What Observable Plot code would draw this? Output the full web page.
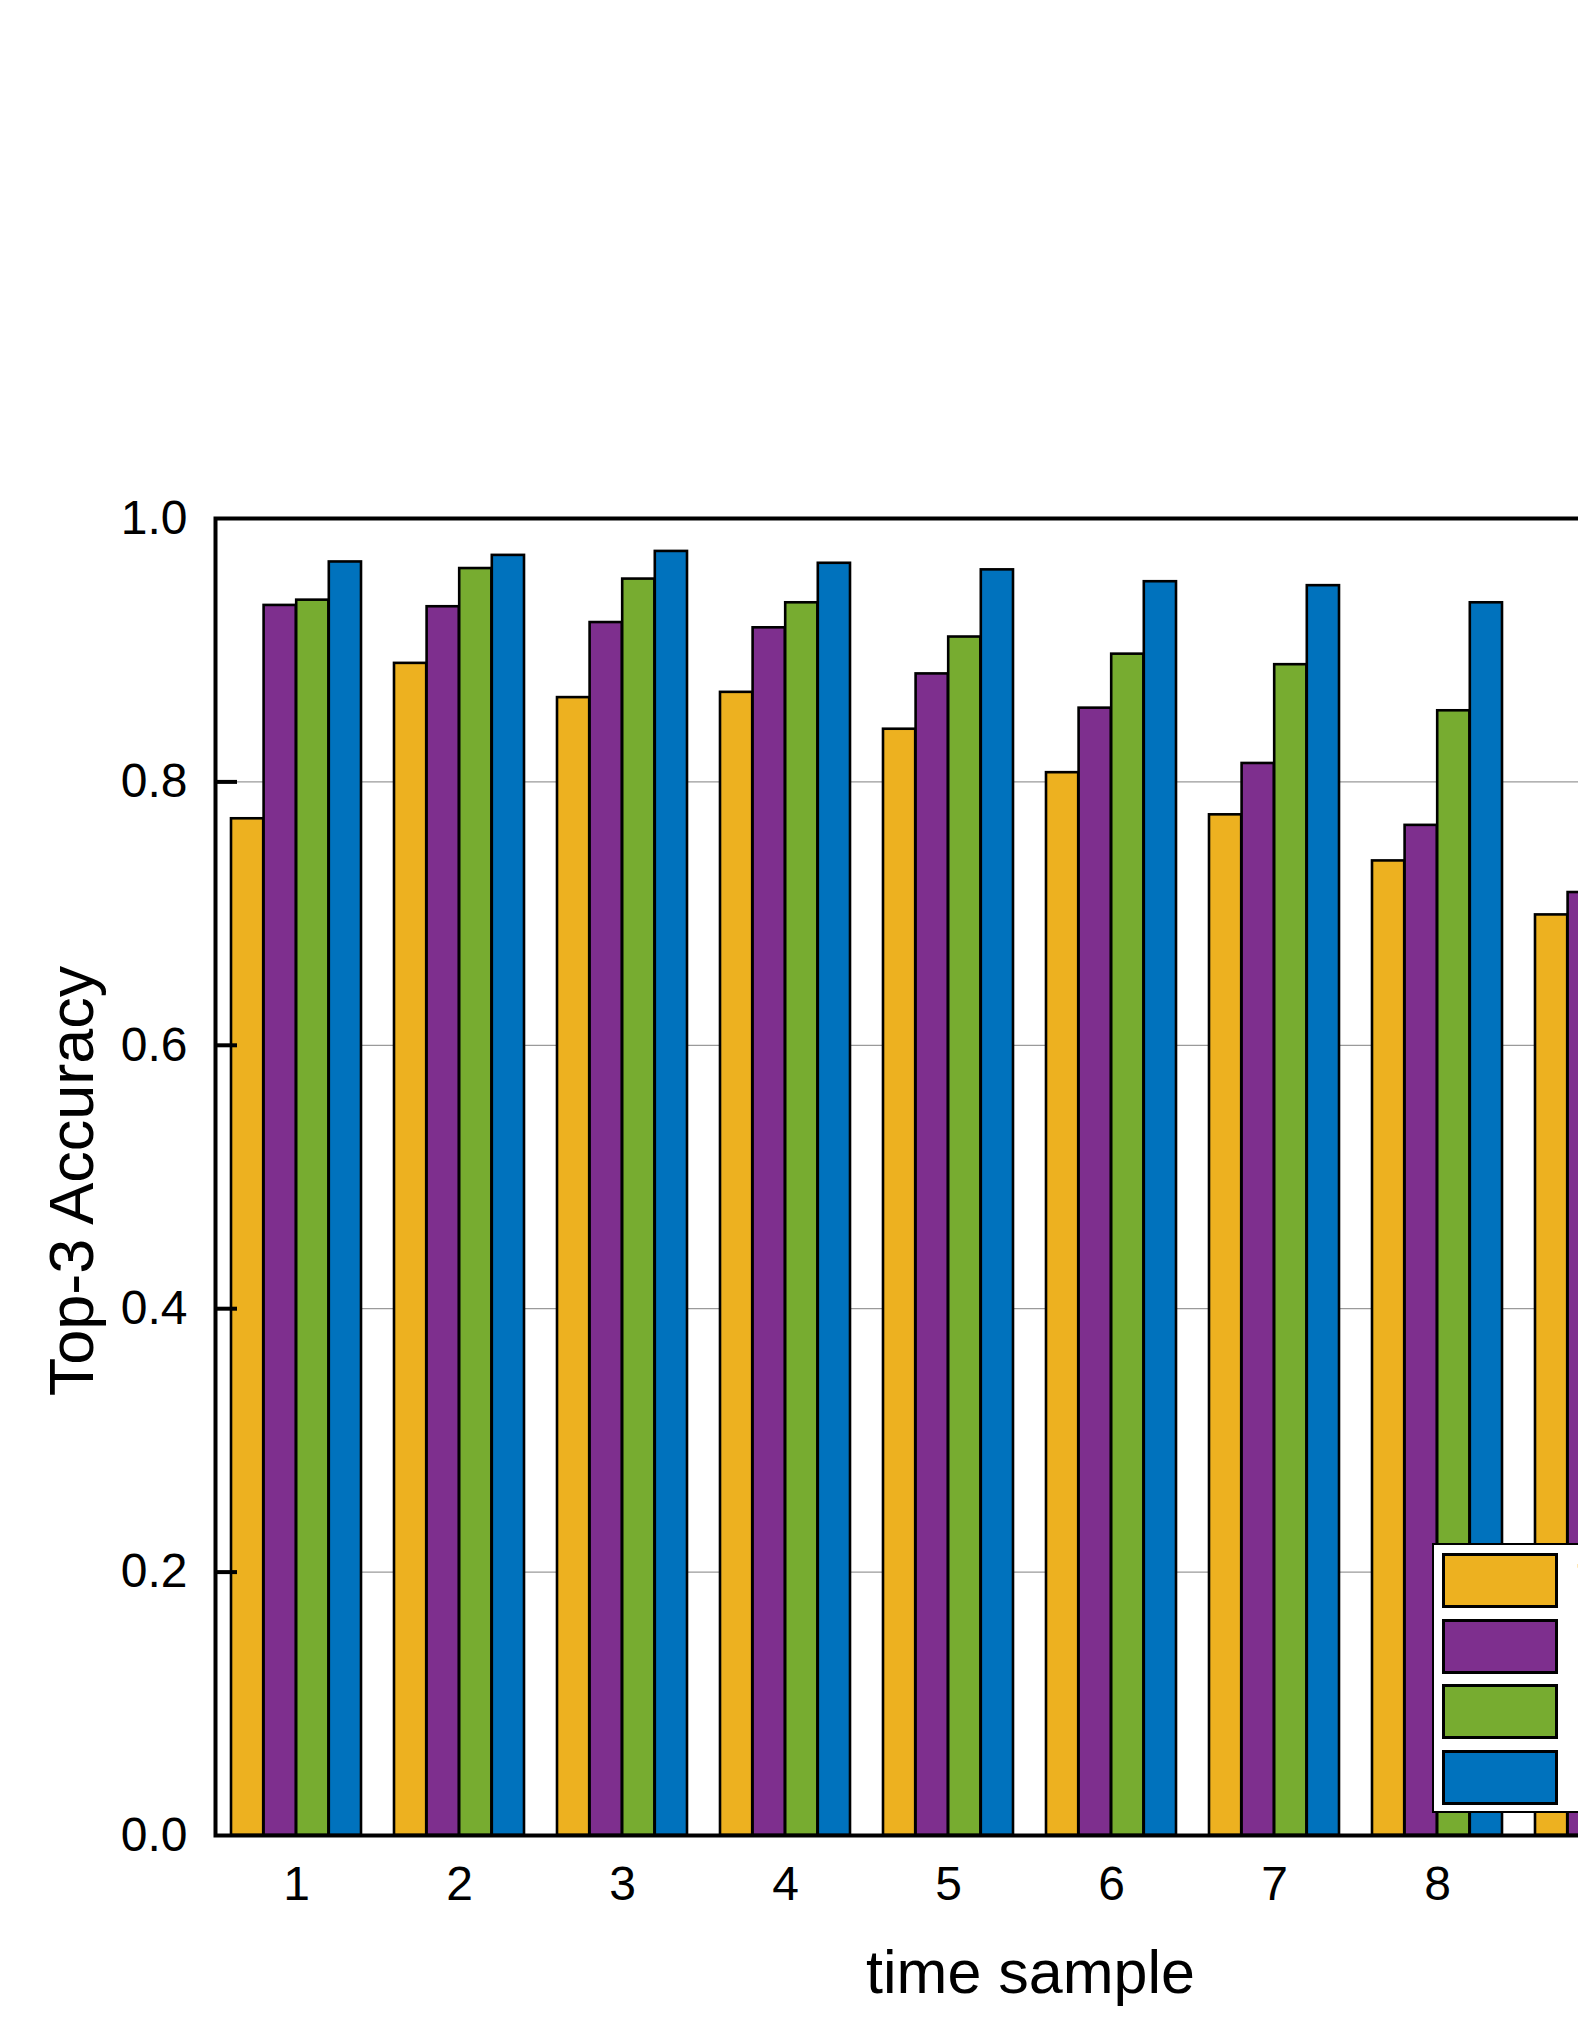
<!DOCTYPE html>
<html>
<head>
<meta charset="utf-8">
<script src="https://cdn.jsdelivr.net/npm/d3@7"></script>
<script src="https://cdn.jsdelivr.net/npm/@observablehq/plot@0.6"></script>
<style>
  html, body { margin: 0; padding: 0; background: #fff; }
  body { width: 1578px; height: 2042px; overflow: hidden; position: relative; font-family: "Liberation Sans", Arial, Helvetica, sans-serif; }
  #chart { position: absolute; left: 0; top: 0; width: 1900px; }
  #chart svg { max-width: none !important; width: 1900px !important; height: 2042px !important; display: block; }
  #legend { position: absolute; left: 1432px; top: 1543px; width: 400px; background: #fff; border: 2px solid #000; box-sizing: border-box; padding: 8px 0 6px 8px; }
  .row { display: flex; align-items: center; height: 55px; margin-bottom: 10.5px; }
  .row:last-child { margin-bottom: 0; }
  .sw { width: 116px; height: 55px; box-sizing: border-box; border: 3px solid #000; flex: none; }
  .lab { margin-left: 19px; font-size: 48px; white-space: nowrap; }
</style>
</head>
<body>
<div id="chart"></div>
<div id="legend"></div>
<script>
// ---- data ----
const groups = ["1","2","3","4","5","6","7","8","9","10"];
const seriesNames = ["TCN", "CNN", "LSTM", "Proposed"];
const seriesColors = ["#EDB120", "#7E2F8E", "#77AC30", "#0072BD"];
const s1 = [0.772, 0.890, 0.864, 0.868, 0.840, 0.807, 0.775, 0.740, 0.699, 0.660];
const s2 = [0.934, 0.933, 0.921, 0.917, 0.882, 0.856, 0.814, 0.767, 0.716, 0.680];
const s3 = [0.938, 0.962, 0.954, 0.936, 0.910, 0.897, 0.889, 0.854, 0.820, 0.790];
const s4 = [0.967, 0.972, 0.975, 0.966, 0.961, 0.952, 0.949, 0.936, 0.920, 0.905];
const yTicks = [0, 0.2, 0.4, 0.6, 0.8, 1.0];
const gridTicks = [0.2, 0.4, 0.6, 0.8];
const xTitle = "time sample";
const yTitle = "Top-3 Accuracy";

const allSeries = [s1, s2, s3, s4];
const rows = [];
allSeries.forEach((vals, k) => vals.forEach((v, i) => rows.push({group: groups[i], series: seriesNames[k], k, value: v})));

// ---- layout ----
const W = 1900, H = 2042;
const mL = 215, mR = 55, mT = 518, mB = 207;
const frameW = W - mL - mR;
const step = frameW / groups.length;
const bw = step * 0.8;
const w = bw / 4;

const barMarks = seriesNames.map((name, k) =>
  Plot.barY(rows.filter(d => d.k === k), {
    x: "group", y: "value",
    fill: seriesColors[k], stroke: "#000", strokeWidth: 2.6,
    insetLeft: k * w, insetRight: (3 - k) * w
  })
);

const chart = Plot.plot({
  width: W, height: H,
  marginLeft: mL, marginRight: mR, marginTop: mT, marginBottom: mB,
  style: {fontFamily: "'Liberation Sans', Arial, Helvetica, sans-serif", background: "#fff", color: "#000", maxWidth: "none"},
  x: {type: "band", domain: groups, paddingInner: 0.2, paddingOuter: 0.1},
  y: {domain: [0, 1]},
  marks: [
    Plot.gridY(gridTicks, {stroke: "#9a9a9a", strokeOpacity: 1, strokeWidth: 1.3}),
    ...barMarks,
    Plot.tickY(gridTicks, {y: d => d, stroke: "#000", strokeWidth: 4, insetRight: frameW - 22}),
    Plot.frame({stroke: "#000", strokeWidth: 4}),
    Plot.axisY(yTicks, {tickSize: 0, tickPadding: 28, fontSize: 48, tickFormat: d3.format(".1f"), label: null}),
    Plot.axisX({tickSize: 0, tickPadding: 30, fontSize: 48, label: null}),
    Plot.text([xTitle], {frameAnchor: "bottom", textAnchor: "middle", dy: 157, fontSize: 61, fill: "#000"}),
    Plot.text([yTitle], {frameAnchor: "left", textAnchor: "middle", dx: -143, dy: 4, rotate: -90, fontSize: 63, fill: "#000"})
  ]
});
document.getElementById("chart").appendChild(chart);

// ---- legend ----
const legend = document.getElementById("legend");
seriesNames.forEach((name, k) => {
  const row = document.createElement("div");
  row.className = "row";
  const sw = document.createElement("div");
  sw.className = "sw";
  sw.style.background = seriesColors[k];
  const lab = document.createElement("span");
  lab.className = "lab";
  lab.textContent = name;
  row.appendChild(sw);
  row.appendChild(lab);
  legend.appendChild(row);
});
</script>
</body>
</html>
